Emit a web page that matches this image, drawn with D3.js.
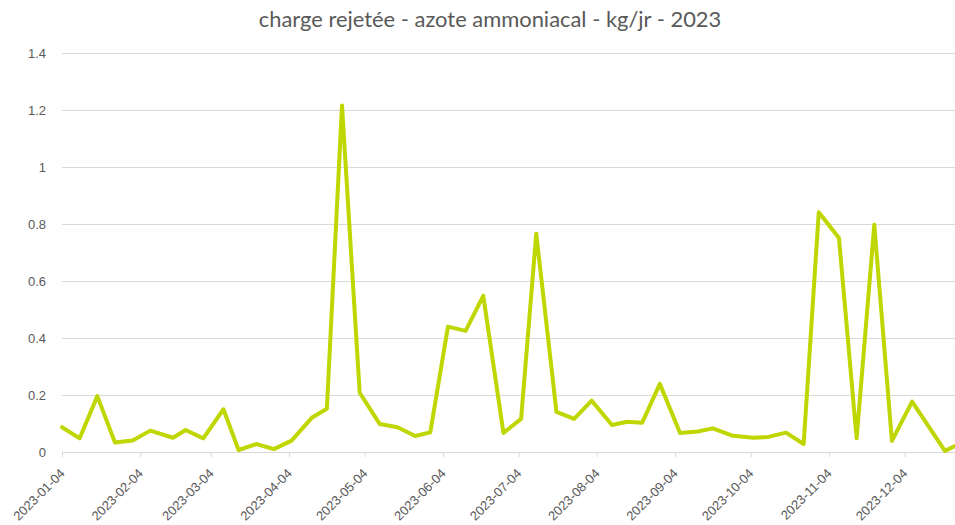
<!DOCTYPE html>
<html>
<head>
  <meta charset="utf-8">
  <title>charge rejetée - azote ammoniacal</title>
  <script src="https://d3js.org/d3.v7.min.js"></script>
  <style>
    body { margin: 0; background: white; }
    svg { display: block; font-family: Lato, "Open Sans", sans-serif; }
  </style>
</head>
<body>
<div id="container"></div>
<script>
  // sample dates and loads (kg/jr)
  var dates = ["2023-01-04","2023-01-11","2023-01-18","2023-01-25","2023-02-01","2023-02-08","2023-02-17","2023-02-22",
    "2023-03-01","2023-03-09","2023-03-15","2023-03-22","2023-03-29","2023-04-05","2023-04-13","2023-04-19","2023-04-25",
    "2023-05-02","2023-05-10","2023-05-17","2023-05-24","2023-05-30","2023-06-06","2023-06-13","2023-06-20","2023-06-28",
    "2023-07-05","2023-07-11","2023-07-19","2023-07-26","2023-08-02","2023-08-10","2023-08-16","2023-08-22","2023-08-29",
    "2023-09-06","2023-09-13","2023-09-19","2023-09-27","2023-10-05","2023-10-11","2023-10-18","2023-10-25","2023-10-31",
    "2023-11-08","2023-11-15","2023-11-22","2023-11-29","2023-12-07","2023-12-20","2023-12-24"];
  var values = [0.087, 0.048, 0.196, 0.033, 0.040, 0.075, 0.050, 0.077,
    0.048, 0.150, 0.007, 0.028, 0.010, 0.040, 0.120, 0.152, 1.216,
    0.208, 0.098, 0.087, 0.056, 0.069, 0.440, 0.425, 0.548, 0.067,
    0.116, 0.766, 0.141, 0.116, 0.180, 0.095, 0.106, 0.103, 0.239,
    0.067, 0.072, 0.083, 0.057, 0.050, 0.053, 0.068, 0.028, 0.841,
    0.751, 0.048, 0.797, 0.039, 0.177, 0.004, 0.021];
  var xTicks = ["2023-01-04","2023-02-04","2023-03-04","2023-04-04","2023-05-04","2023-06-04",
    "2023-07-04","2023-08-04","2023-09-04","2023-10-04","2023-11-04","2023-12-04"];
  var yTicks = [0, 0.2, 0.4, 0.6, 0.8, 1, 1.2, 1.4];
  var title = "charge rejetée - azote ammoniacal - kg/jr - 2023";

  const width = 955, height = 525;
  const margin = { top: 53, bottom: 73, left: 62, right: 0 };
  const parse = d3.timeParse("%Y-%m-%d");
  const fmt = d3.timeFormat("%Y-%m-%d");

  var data = dates.map(function(d, i) { return [parse(d), values[i]]; });

  var svg = d3.select("#container")
    .append("svg")
    .attr("width", width)
    .attr("height", height);

  // the original used Calibri; pick a font size that gives the same text width
  function fitSize(str, target) {
    var t = svg.append("text").style("font-size", "100px").text(str);
    var w = t.node().getComputedTextLength();
    t.remove();
    return 100 * target / w;
  }
  var labelSize = fitSize("2023-01-04", 70);
  var titleSize = fitSize(title, 463);

  var x = d3.scaleTime()
    .domain(d3.extent(data, function(d) { return d[0]; }))
    .range([margin.left, width - margin.right]);

  var y = d3.scaleLinear()
    .domain([0, 1.4])
    .range([height - margin.bottom, margin.top]);

  // horizontal gridlines + labels
  var yAxis = svg.append("g")
    .attr("transform", "translate(" + margin.left + ",0)")
    .call(d3.axisLeft(y).tickValues(yTicks).tickSize(-(width - margin.left - margin.right))
      .tickPadding(16).tickFormat(function(d) { return String(d); }));
  yAxis.select(".domain").remove();
  yAxis.selectAll("line").attr("stroke", "#d9d9d9");
  yAxis.selectAll("text").attr("fill", "#595959").style("font-size", labelSize + "px");

  // date axis
  var xAxis = svg.append("g")
    .attr("transform", "translate(0," + y(0) + ")")
    .call(d3.axisBottom(x).tickValues(xTicks.map(parse)).tickSize(5).tickSizeOuter(0).tickFormat(fmt));
  xAxis.select(".domain").attr("stroke", "#d9d9d9");
  xAxis.selectAll("line").attr("stroke", "#d9d9d9");
  xAxis.selectAll("text")
    .attr("fill", "#595959")
    .style("font-size", labelSize + "px")
    .attr("text-anchor", "end")
    .attr("x", 0)
    .attr("y", 0)
    .attr("dy", "0.35em")
    .attr("transform", "translate(0,19) rotate(-45)");

  var line = d3.line()
    .x(function(d) { return x(d[0]); })
    .y(function(d) { return y(d[1]); });

  svg.append("path")
    .datum(data)
    .attr("d", line)
    .attr("fill", "none")
    .attr("stroke", "#bfd600")
    .attr("stroke-width", 4)
    .attr("stroke-linejoin", "round")
    .attr("stroke-linecap", "round");

  svg.append("text")
    .attr("x", 490)
    .attr("y", 27)
    .attr("text-anchor", "middle")
    .attr("fill", "#595959")
    .style("font-size", titleSize + "px")
    .text(title);
</script>
</body>
</html>
